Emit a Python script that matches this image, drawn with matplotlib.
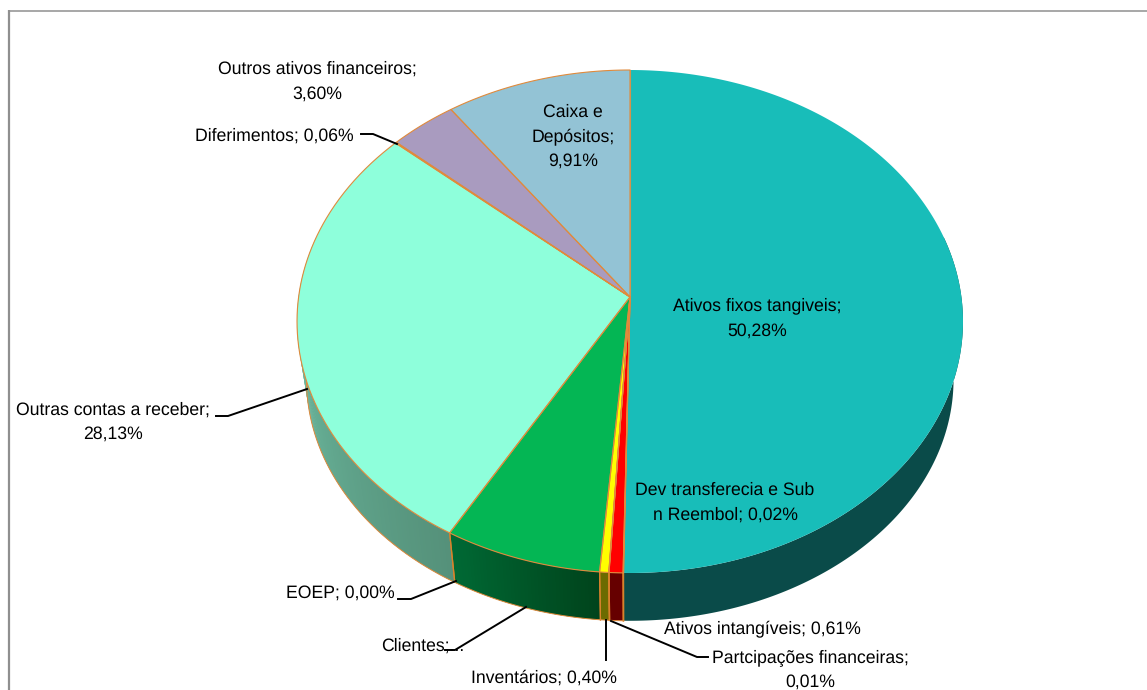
import numpy as np
import matplotlib
matplotlib.use("Agg")
import matplotlib.pyplot as plt
from matplotlib.colors import to_rgb

plt.rcParams["font.family"] = ["Liberation Sans", "DejaVu Sans"]
plt.rcParams["text.hinting"] = "no_hinting"

# dados do grafico, no sentido dos ponteiros a partir do topo
categorias = ["Ativos fixos tangiveis", "Dev transferecia e Sub n Reembol", "Ativos intangíveis",
              "Partcipações financeiras", "Inventários", "Clientes", "EOEP",
              "Outras contas a receber", "Diferimentos", "Outros ativos financeiros", "Caixa e Depósitos"]
valores = [50.28, 0.02, 0.61, 0.01, 0.40, 6.98, 0.00, 28.13, 0.06, 3.60, 9.91]
cores_topo = ["#18BDB9", "#FF0000", "#FF0000", "#C06000", "#FFFF00", "#04B654", "#04B654",
              "#8EFFDB", "#E08A3C", "#A99BBF", "#93C3D5"]
cores_lado_a = ["#0A4B49", "#660000", "#660000", "#6B5000", "#6B6B00", "#006A35", "#006A35",
                "#75C8AC", "#5E9C84", "#5E9C84", "#5E9C84"]
cores_lado_b = ["#0A4B49", "#660000", "#660000", "#6B5000", "#6B6B00", "#00441C", "#00441C",
                "#55917A", "#5E9C84", "#5E9C84", "#5E9C84"]

fig = plt.figure(figsize=(11.47, 6.9), dpi=100)
ax = fig.add_axes([0, 0, 1, 1])
ax.set_xlim(0, 1147)
ax.set_ylim(690, 0)
ax.axis("off")

# moldura do grafico (so esquerda e topo ficam visiveis)
ax.plot([9, 9], [690, 10], color="#8F8F8F", lw=1.6, solid_capstyle="butt")
ax.plot([8, 1147], [10.5, 10.5], color="#8F8F8F", lw=1.1, solid_capstyle="butt")

K = 0.0974
CX = 630


def topo(t):
    u, v = np.sin(t), -np.cos(t)
    w = 1 - K * v
    return CX + 331.4 * u / w, 297 + 249.1 * v / w


def base(t):
    u, v = np.sin(t), -np.cos(t)
    w = 1 - K * v
    return CX + 322 * u / w, 356 + 239 * v / w


fim = np.cumsum(valores) / sum(valores) * 2 * np.pi
ini = np.concatenate([[0], fim[:-1]])

# lateral, so a parte visivel (frente)
for i in range(len(valores)):
    a, b = max(ini[i], np.pi / 2 - 0.25), min(fim[i], 3 * np.pi / 2 + 0.25)
    if b <= a:
        continue
    if cores_lado_a[i] == cores_lado_b[i]:
        ts = np.linspace(a, b, max(3, int((b - a) / 0.005)))
        x1, y1 = topo(ts)
        x2, y2 = base(ts)
        ax.fill(np.r_[x1, x2[::-1]], np.r_[y1, y2[::-1]], color=cores_lado_a[i], lw=0, zorder=2)
    else:
        # degrade: cada faixa passa por cima da anterior para nao ficar riscado
        passos = max(2, int((b - a) / 0.01))
        ts = np.linspace(a, b, passos + 1)
        for j in range(passos):
            f = j / passos
            cor = (1 - f) * np.array(to_rgb(cores_lado_b[i])) + f * np.array(to_rgb(cores_lado_a[i]))
            t2 = ts[j:j + 3]
            x1, y1 = topo(t2)
            x2, y2 = base(t2)
            ax.fill(np.r_[x1, x2[::-1]], np.r_[y1, y2[::-1]], color=cor, lw=0, zorder=2)
    # bordas das fatias na lateral
    if i != 0:
        for t in (a, b):
            if np.pi / 2 < t < 3 * np.pi / 2:
                xa, ya = topo(t)
                xb, yb = base(t)
                ax.plot([xa, xb], [ya, yb], color="#D9822B", lw=0.9, zorder=3)
        ts = np.linspace(a, b, max(3, int((b - a) / 0.005)))
        xr, yr = base(ts)
        ax.plot(xr, yr, color="#E08A3C", lw=0.7, zorder=3)

# tampo
for i in range(len(valores)):
    if valores[i] == 0:
        continue
    ts = np.linspace(ini[i], fim[i], max(3, int((fim[i] - ini[i]) / 0.005)))
    x, y = topo(ts)
    ax.fill(np.r_[CX, x], np.r_[297, y], color=cores_topo[i], lw=0, zorder=4)
for i in range(len(valores)):
    if valores[i] == 0:
        continue
    ts = np.linspace(ini[i], fim[i], max(3, int((fim[i] - ini[i]) / 0.005)))
    x, y = topo(ts)
    if i == 0:
        ax.plot([CX, x[0]], [297, y[0]], color="#C9A060", lw=0.8, zorder=5)
        ax.plot([CX, x[-1]], [297, y[-1]], color="#D9822B", lw=0.8, zorder=5)
    else:
        ax.plot(np.r_[CX, x, CX], np.r_[297, y, 297], color="#E08A3C", lw=0.8, zorder=5)

# linhas de chamada
chamadas = [([361, 373, 397], [134, 134, 144]),
            ([216, 228, 307], [416, 416, 389]),
            ([398, 411, 456], [599, 599, 581]),
            ([445, 455, 526], [650, 650, 607]),
            ([606, 606], [660, 620]),
            ([708, 697, 611], [657, 657, 621])]
for xs, ys in chamadas:
    ax.plot(xs, ys, color="black", lw=1.4, zorder=7)

# rotulos
rotulos = [(317, 69, "Outros ativos financeiros;"), (317, 94, "3,60%"),
           (274, 136, "Diferimentos; 0,06%"),
           (573, 112, "Caixa e"), (573, 137, "Depósitos;"), (573, 161, "9,91%"),
           (757, 306, "Ativos fixos tangiveis;"), (757, 331, "50,28%"),
           (725, 490, "Dev transferecia e Sub"), (725, 515, "n Reembol; 0,02%"),
           (762, 629, "Ativos intangíveis; 0,61%"),
           (810, 658, "Partcipações financeiras;"), (810, 682, "0,01%"),
           (544, 678, "Inventários; 0,40%"),
           (423, 646, "Clientes;..."),
           (340, 593, "EOEP; 0,00%"),
           (113, 410, "Outras contas a receber;"), (113, 434, "28,13%")]
for x, y, s in rotulos:
    ax.text(x, y, s, ha="center", va="center", fontsize=12.7, color="black", zorder=6)

fig.savefig("out.png", dpi=100)
